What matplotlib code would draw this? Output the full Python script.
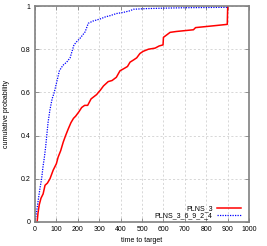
import matplotlib
matplotlib.use("Agg")
import matplotlib.pyplot as plt

# time-to-target points (time, cumulative probability)
red_t = [10, 14, 20, 28, 38, 47, 58, 70, 85, 100, 108, 120, 132, 143, 155, 168,
         180, 190, 205, 218, 232, 246, 262, 275, 288, 296, 305, 320, 342, 360,
         380, 397, 415, 432, 444, 460, 475, 490, 505, 530, 561, 580, 598, 600,
         615, 631, 660, 700, 740, 750, 800, 850, 898, 900]
red_p = [0.0, 0.04, 0.08, 0.11, 0.13, 0.17, 0.18, 0.20, 0.24, 0.27, 0.30, 0.33,
         0.37, 0.40, 0.43, 0.46, 0.48, 0.49, 0.51, 0.53, 0.54, 0.54, 0.57, 0.58,
         0.59, 0.60, 0.61, 0.63, 0.65, 0.655, 0.67, 0.70, 0.71, 0.72, 0.74,
         0.75, 0.76, 0.78, 0.79, 0.80, 0.805, 0.815, 0.82, 0.855, 0.866, 0.878,
         0.882, 0.886, 0.89, 0.90, 0.905, 0.91, 0.915, 1.0]

blue_t = [0, 8, 15, 24, 31, 38, 44, 50, 55, 61, 70, 80, 90, 102, 114, 130, 148,
          164, 176, 182, 195, 210, 222, 234, 249, 270, 304, 330, 350, 380, 411,
          444, 460, 520, 600, 700, 800, 896, 900]
blue_p = [0.0, 0.05, 0.10, 0.16, 0.20, 0.26, 0.30, 0.35, 0.40, 0.46, 0.52, 0.57,
          0.60, 0.65, 0.70, 0.725, 0.74, 0.76, 0.80, 0.82, 0.835, 0.85, 0.865,
          0.88, 0.92, 0.93, 0.94, 0.95, 0.955, 0.965, 0.97, 0.978, 0.985, 0.988,
          0.99, 0.992, 0.993, 0.994, 1.0]

labels = ["PLNS_3", "PLNS_3_6_9_2_4"]
x_ticks = list(range(0, 1001, 100))
y_ticks = [0, 0.2, 0.4, 0.6, 0.8, 1]
y_tick_labels = ["0", "0.2", "0.4", "0.6", "0.8", "1"]

plt.rcParams['font.family'] = ['Liberation Sans', 'DejaVu Sans']

fig = plt.figure(figsize=(2.67, 2.46), dpi=100)
ax = fig.add_axes([0.131, 0.0976, 0.802, 0.878])

ax.plot(red_t, red_p, color='#ff0000', lw=1.1, label=labels[0])
ax.plot(blue_t, blue_p, color='#0000ff', lw=0.9, linestyle=(0, (1, 1)), label=labels[1])

ax.set_xlim(0, 1000)
ax.set_ylim(0, 1)
ax.set_xticks(x_ticks)
ax.set_yticks(y_ticks)
ax.set_yticklabels(y_tick_labels)
ax.tick_params(direction='in', top=True, right=True, labelsize=5, length=3,
               width=0.6, color='#808080', pad=3)
ax.grid(True, color='#c8c8c8', linestyle=(0, (3, 3)), lw=0.5)
for s in ax.spines.values():
    s.set_color('#808080')
    s.set_linewidth(1.2)

ax.set_xlabel("time to target", fontsize=5, labelpad=3)
ax.set_ylabel("cumulative probability", fontsize=5, labelpad=8)

ax.legend(loc='lower right', bbox_to_anchor=(0.985, -0.012), frameon=False,
          markerfirst=False, fontsize=5, handlelength=3.4, labelspacing=0.1,
          borderpad=0.2, handletextpad=0.7)

fig.savefig("out.png", dpi=100)
